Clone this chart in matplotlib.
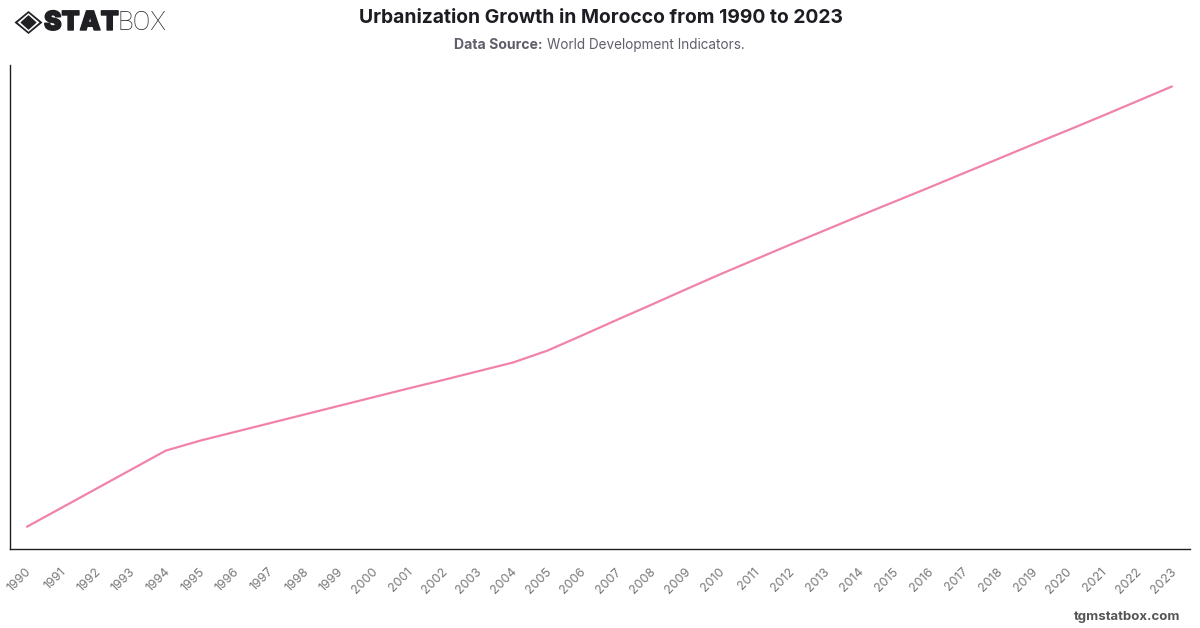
import matplotlib
matplotlib.use("Agg")
import matplotlib.pyplot as plt
import matplotlib.patheffects as pe
from matplotlib.patches import Polygon
from matplotlib.transforms import ScaledTranslation

years = list(range(1990, 2024))
urban_share = [48.40, 49.10, 49.80, 50.50, 51.20, 51.57, 51.89, 52.21, 52.53, 52.85,
               53.17, 53.49, 53.80, 54.12, 54.44, 54.88, 55.44, 56.01, 56.57, 57.14,
               57.70, 58.24, 58.78, 59.31, 59.84, 60.36, 60.88, 61.41, 61.94, 62.47,
               62.99, 63.52, 64.06, 64.60]

plt.rcParams["font.family"] = ["Inter", "DejaVu Sans"]

W, H = 1200, 628
fig = plt.figure(figsize=(W / 100, H / 100), dpi=100, facecolor="white")

# Plot area, positioned in pixels
left, right, top, bottom = 10, 1190, 65, 549
ax = fig.add_axes([left / W, 1 - bottom / H, (right - left) / W, (bottom - top) / H])
ax.plot(range(len(years)), urban_share, color="#f082ac", lw=1.6,
        solid_joinstyle="round", solid_capstyle="round")
ax.set_xlim(-0.49, 33.52)
ax.set_ylim(47.58, 65.39)
ax.set_yticks([])
ax.set_xticks(range(len(years)))
ax.set_xticklabels(years, rotation=45, ha="right", va="top", rotation_mode="anchor",
                   fontsize=8.9, color="#777777")
ax.tick_params(axis="x", length=0, pad=12)
shift = ScaledTranslation(-2 / 100, 0, fig.dpi_scale_trans)
for label in ax.get_xticklabels():
    label.set_transform(label.get_transform() + shift)
for side in ("top", "right"):
    ax.spines[side].set_visible(False)
for side in ("left", "bottom"):
    ax.spines[side].set_color("#1f1f1f")
    ax.spines[side].set_linewidth(1.0)

# Header text
fig.text(600.5 / W, 1 - 18 / H, "Urbanization Growth in Morocco from 1990 to 2023",
         ha="center", va="center", fontsize=13.9, fontweight="bold", color="#1c1c22")
sub_y = 1 - 45 / H
fig.text(454.5 / W, sub_y, "Data Source:", ha="left", va="center",
         fontsize=10.1, fontweight="bold", color="#5f5f6b")
fig.text(547 / W, sub_y, "World Development Indicators.", ha="left", va="center",
         fontsize=9.75, color="#5f5f6b")
fig.text(1180 / W, 1 - 617 / H, "tgmstatbox.com", ha="right", va="center",
         fontsize=9.5, fontweight="bold", color="#555555")

# Brand mark: nested diamonds, then the wordmark
logo = fig.add_axes([0, 0, 1, 1], facecolor="none")
logo.set_xlim(0, W)
logo.set_ylim(H, 0)
logo.axis("off")
cx, cy = 28.5, 22.5
dark = "#1f1f24"
for half_w, half_h, colour in [(14, 11.5, dark), (11, 9.3, "white"), (8.2, 7.4, dark)]:
    logo.add_patch(Polygon([(cx - half_w, cy), (cx, cy - half_h), (cx + half_w, cy), (cx, cy + half_h)],
                           closed=True, fc=colour, ec="none"))
stat = logo.text(44, 23, "STAT", ha="left", va="center", fontsize=19, fontweight="black",
                 color=dark)
stat.set_path_effects([pe.withStroke(linewidth=1.0, foreground=dark)])
logo.text(117, 23, "BOX", ha="left", va="center", fontsize=18.8, fontweight="light",
          family=["Roboto", "DejaVu Sans"], color=dark)

fig.savefig("out.png", dpi=100, facecolor="white")
